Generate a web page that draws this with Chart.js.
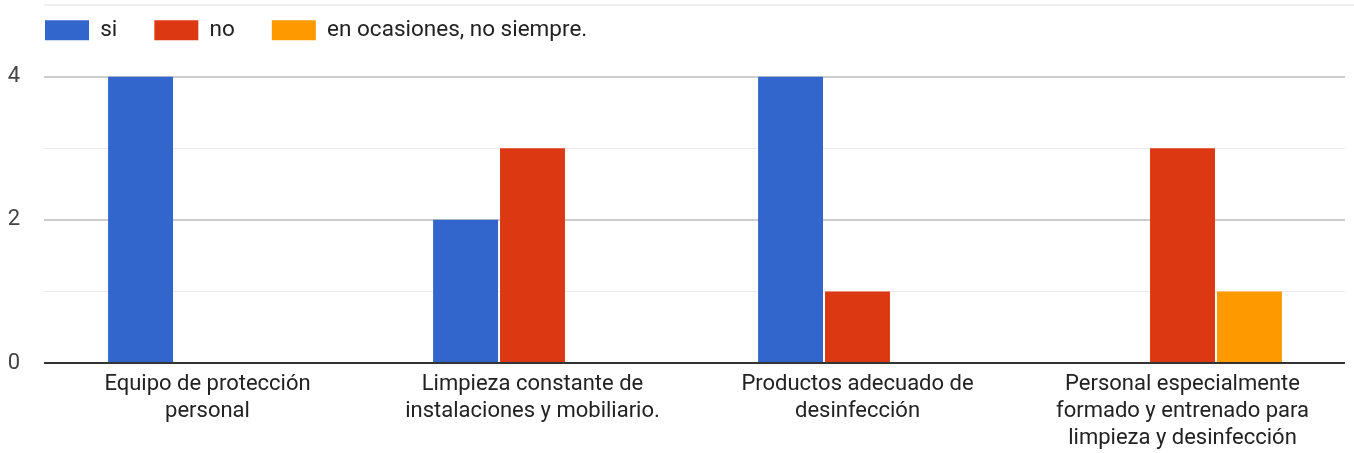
<!DOCTYPE html>
<html>
<head>
<meta charset="utf-8">
<script src="https://cdn.jsdelivr.net/npm/chart.js@4/dist/chart.umd.min.js"></script>
<style>
  html, body { margin: 0; padding: 0; background: #fff; }
  #wrap { position: relative; width: 1354px; height: 453px; }
  #topLine { position: absolute; top: 4px; left: 44px; right: 0; border-top: 2px solid #eeeeee; }
</style>
</head>
<body>
<div id="wrap">
  <div id="topLine"></div>
  <canvas id="myChart"></canvas>
</div>
<script>
// datos del gráfico
const categories = [
    ['Equipo de protección', 'personal'],
    ['Limpieza constante de', 'instalaciones y mobiliario.'],
    ['Productos adecuado de', 'desinfección'],
    ['Personal especialmente', 'formado y entrenado para', 'limpieza y desinfección']
];
const seriesNames = ['si', 'no', 'en ocasiones, no siempre.'];
const siValues = [4, 2, 4, 0];
const noValues = [0, 3, 1, 3];
const ocasionesValues = [0, 0, 0, 1];
const yTickLabels = ['0', '2', '4'];

const colors = ['#3366cc', '#dc3912', '#ff9900'];

Chart.defaults.font.family = 'Roboto, Arial, sans-serif';
Chart.defaults.font.size = 22;

// espacio extra debajo de la leyenda
const legendSpacer = {
    id: 'legendSpacer',
    beforeInit(chart) {
        const originalFit = chart.legend.fit;
        chart.legend.fit = function () {
            originalFit.call(this);
            this.height += 25;
        };
    }
};

const data = {
    labels: categories,
    datasets: [
        { label: seriesNames[0], data: siValues, backgroundColor: colors[0] },
        { label: seriesNames[1], data: noValues, backgroundColor: colors[1] },
        { label: seriesNames[2], data: ocasionesValues, backgroundColor: colors[2] }
    ]
};

const config = {
    type: 'bar',
    data: data,
    plugins: [legendSpacer],
    options: {
        responsive: true,
        maintainAspectRatio: false,
        animation: false,
        layout: {
            padding: { left: 8, right: 9, top: -18, bottom: 0 }
        },
        datasets: {
            bar: {
                categoryPercentage: 0.618,
                barPercentage: 0.97,
                borderWidth: 0
            }
        },
        plugins: {
            tooltip: { enabled: false },
            legend: {
                position: 'top',
                align: 'start',
                labels: {
                    boxWidth: 44,
                    boxHeight: 20,
                    padding: 37,
                    color: '#222',
                    font: { size: 22.5 }
                }
            }
        },
        scales: {
            x: {
                grid: { display: false, drawTicks: false },
                border: { display: false },
                afterFit: function (scale) {
                    scale.height = 90;
                },
                ticks: {
                    color: '#222',
                    padding: 8,
                    maxRotation: 0,
                    autoSkip: false,
                    font: { size: 22, lineHeight: 1.227 }
                }
            },
            y: {
                min: 0,
                max: 4,
                border: { display: false },
                afterFit: function (scale) {
                    scale.width = 37;
                },
                grid: {
                    tickLength: 1,
                    color: function (ctx) {
                        const v = ctx.tick.value;
                        if (v === 0) return '#333333';
                        return v % 2 === 0 ? '#cccccc' : '#ebebeb';
                    },
                    lineWidth: function (ctx) {
                        const v = ctx.tick.value;
                        return v % 2 === 0 ? 2 : 1;
                    }
                },
                ticks: {
                    stepSize: 1,
                    padding: 24,
                    color: '#444',
                    font: { size: 22 },
                    callback: function (value) {
                        const s = String(value);
                        return yTickLabels.indexOf(s) >= 0 ? s : '';
                    }
                }
            }
        }
    }
};

const ctx = document.getElementById('myChart').getContext('2d');
const myChart = new Chart(ctx, config);
</script>
</body>
</html>
